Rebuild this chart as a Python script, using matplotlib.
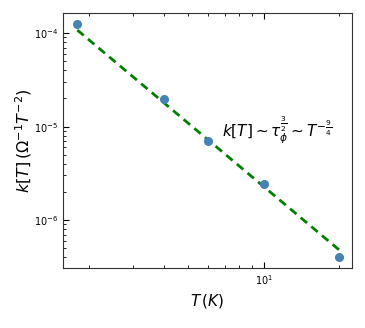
import matplotlib.pyplot as plt

# measured points
T = [1.8, 4.0, 6.0, 10.0, 20.0]
k = [1.25e-4, 1.97e-5, 7.0e-6, 2.45e-6, 4.0e-7]

# end points of the T^(-9/4) guide line
fit_T = [1.8, 20.0]
fit_k = [1.08e-4, 4.8e-7]

fig = plt.figure(figsize=(3.65, 3.28), dpi=100)
ax = fig.add_axes([0.173, 0.183, 0.791, 0.777])

ax.plot(fit_T, fit_k, '--', color='green', linewidth=2, dashes=(3, 2), zorder=2)
ax.plot(T, k, 'o', color='steelblue', markersize=5.5, zorder=3)

ax.set_xscale('log')
ax.set_yscale('log')
ax.set_xlim(1.58, 22.5)
ax.set_ylim(3.07e-7, 1.64e-4)

ax.tick_params(which='both', direction='in', top=True, right=False, labelsize=7)
ax.tick_params(which='major', length=4)
ax.tick_params(which='minor', length=2)
for s in ax.spines.values():
    s.set_color('#333333')

ax.set_xlabel(r'$T\,(K)$', fontsize=11)
ax.set_ylabel(r'$k[T]\,(\Omega^{-1}T^{-2})$', fontsize=11.5)
ax.yaxis.set_label_coords(-0.10, 0.5)

ax.text(0.549, 0.541, r'$k[T] \sim \tau_\phi^{\frac{3}{2}} \sim T^{-\frac{9}{4}}$',
        transform=ax.transAxes, fontsize=11, va='center', ha='left')

fig.savefig('out.png', dpi=100)
